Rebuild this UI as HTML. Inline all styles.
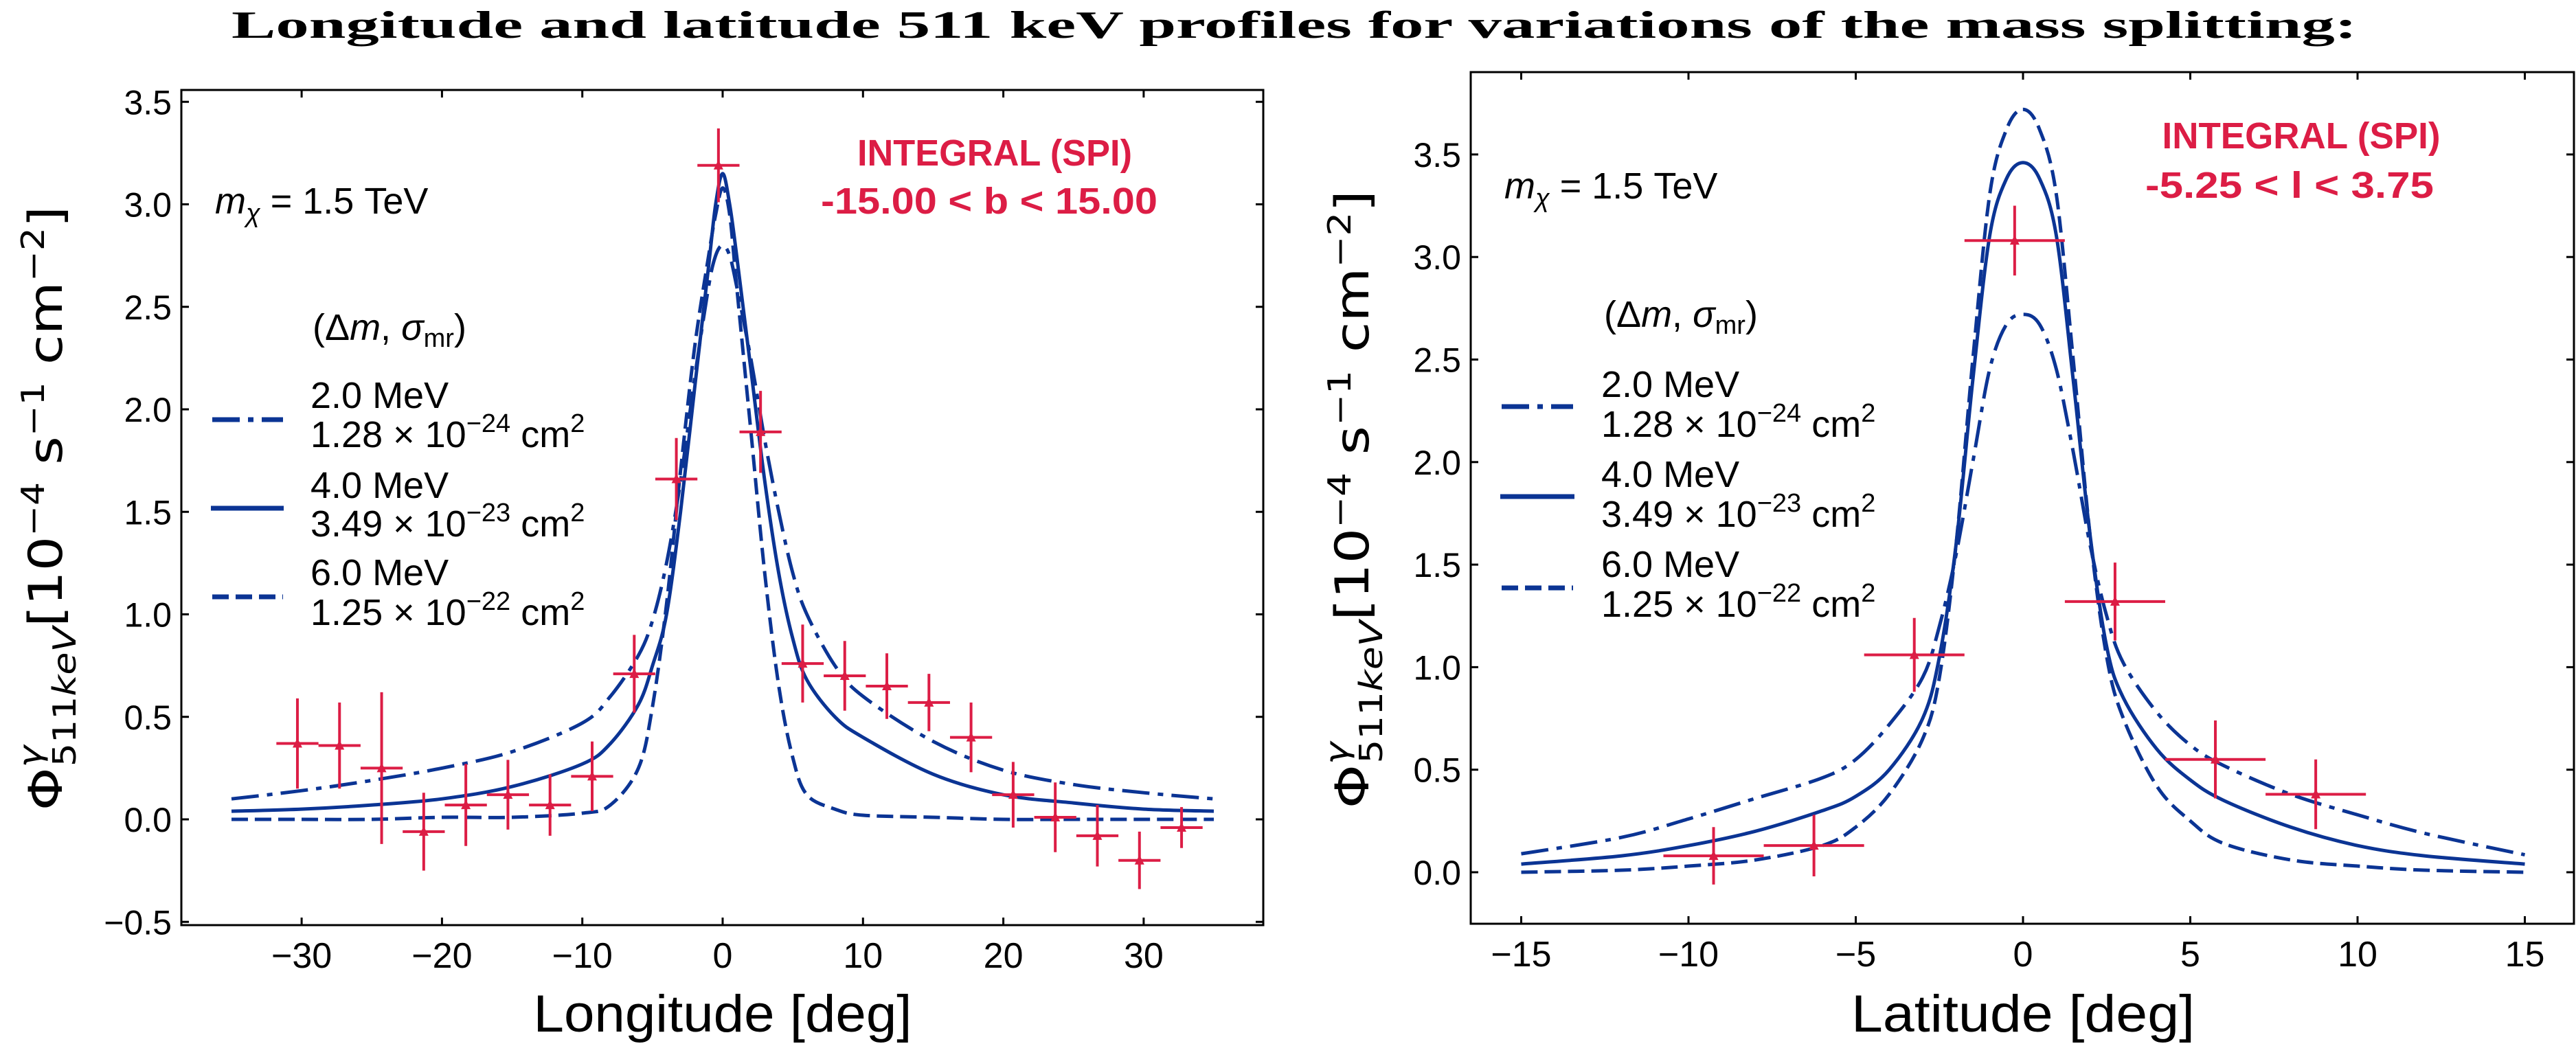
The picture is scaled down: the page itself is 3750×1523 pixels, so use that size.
<!DOCTYPE html>
<html><head><meta charset="utf-8"><style>
html,body{margin:0;padding:0;background:#fff}
svg{display:block}
</style></head><body>
<svg id="fig" width="3750" height="1523" viewBox="0 0 3750 1523" xmlns="http://www.w3.org/2000/svg" style="font-family:'Liberation Sans','DejaVu Sans',sans-serif">
<text x="1884" y="55" text-anchor="middle" style="font-family:'Liberation Serif',serif;font-weight:bold;font-size:56px" textLength="3094" lengthAdjust="spacingAndGlyphs">Longitude and latitude 511 keV profiles for variations of the mass splitting:</text>
<g id="left"></g>
<g id="right"></g>

<!-- left annotations -->
<text x="1052" y="1502" text-anchor="middle" font-size="76" textLength="551" lengthAdjust="spacingAndGlyphs">Longitude [deg]</text>
<text transform="translate(90,740) rotate(-90)" text-anchor="middle" style="font-family:'DejaVu Sans',sans-serif;font-size:68px" textLength="880" lengthAdjust="spacingAndGlyphs">Φ<tspan dy="-30" font-size="46" font-style="italic">γ</tspan><tspan dx="-26" dy="50" font-size="46">511</tspan><tspan font-size="46" font-style="italic">keV</tspan><tspan dy="-20">[10</tspan><tspan dy="-26" font-size="46">−4</tspan><tspan dy="26"> s</tspan><tspan dy="-26" font-size="46">−1</tspan><tspan dy="26"> cm</tspan><tspan dy="-26" font-size="46">−2</tspan><tspan dy="26">]</tspan></text>
<text x="313" y="311" font-size="54"><tspan font-style="italic">m</tspan><tspan font-style="italic" font-size="38" dy="12">χ</tspan><tspan dy="-12"> = 1.5 TeV</tspan></text>
<text x="1448" y="241" text-anchor="middle" font-size="54" font-weight="bold" fill="#dc1d45" textLength="400" lengthAdjust="spacingAndGlyphs">INTEGRAL (SPI)</text>
<text x="1440" y="311" text-anchor="middle" font-size="54" font-weight="bold" fill="#dc1d45" textLength="490" lengthAdjust="spacingAndGlyphs">-15.00 &lt; b &lt; 15.00</text>
<g>
<text x="455" y="495" font-size="54">(Δ<tspan font-style="italic">m</tspan>, <tspan font-style="italic">σ</tspan><tspan font-size="38" dy="10">mr</tspan><tspan dy="-10">)</tspan></text>
<line x1="309" y1="611" x2="412" y2="611" stroke="#0b3494" stroke-width="7" stroke-dasharray="40 12 8 12"/>
<text x="452" y="594" font-size="54">2.0 MeV</text>
<text x="452" y="651" font-size="54">1.28 × 10<tspan dy="-22" font-size="38">−24</tspan><tspan dy="22"> cm</tspan><tspan dy="-22" font-size="38">2</tspan></text>
<line x1="307" y1="740" x2="413" y2="740" stroke="#0b3494" stroke-width="7"/>
<text x="452" y="725" font-size="54">4.0 MeV</text>
<text x="452" y="781" font-size="54">3.49 × 10<tspan dy="-22" font-size="38">−23</tspan><tspan dy="22"> cm</tspan><tspan dy="-22" font-size="38">2</tspan></text>
<line x1="309" y1="869" x2="412" y2="869" stroke="#0b3494" stroke-width="7" stroke-dasharray="24 10"/>
<text x="452" y="852" font-size="54">6.0 MeV</text>
<text x="452" y="910" font-size="54">1.25 × 10<tspan dy="-22" font-size="38">−22</tspan><tspan dy="22"> cm</tspan><tspan dy="-22" font-size="38">2</tspan></text>
</g>
<!-- right annotations -->
<text x="2945" y="1502" text-anchor="middle" font-size="76" textLength="500" lengthAdjust="spacingAndGlyphs">Latitude [deg]</text>
<text transform="translate(1992,727) rotate(-90)" text-anchor="middle" style="font-family:'DejaVu Sans',sans-serif;font-size:68px" textLength="900" lengthAdjust="spacingAndGlyphs">Φ<tspan dy="-30" font-size="46" font-style="italic">γ</tspan><tspan dx="-26" dy="50" font-size="46">511</tspan><tspan font-size="46" font-style="italic">keV</tspan><tspan dy="-20">[10</tspan><tspan dy="-26" font-size="46">−4</tspan><tspan dy="26"> s</tspan><tspan dy="-26" font-size="46">−1</tspan><tspan dy="26"> cm</tspan><tspan dy="-26" font-size="46">−2</tspan><tspan dy="26">]</tspan></text>
<text x="2190" y="289" font-size="54"><tspan font-style="italic">m</tspan><tspan font-style="italic" font-size="38" dy="12">χ</tspan><tspan dy="-12"> = 1.5 TeV</tspan></text>
<text x="3350" y="216" text-anchor="middle" font-size="54" font-weight="bold" fill="#dc1d45" textLength="405" lengthAdjust="spacingAndGlyphs">INTEGRAL (SPI)</text>
<text x="3333" y="288" text-anchor="middle" font-size="54" font-weight="bold" fill="#dc1d45" textLength="420" lengthAdjust="spacingAndGlyphs">-5.25 &lt; l &lt; 3.75</text>
<g>
<text x="2335" y="476" font-size="54">(Δ<tspan font-style="italic">m</tspan>, <tspan font-style="italic">σ</tspan><tspan font-size="38" dy="10">mr</tspan><tspan dy="-10">)</tspan></text>
<line x1="2186" y1="592" x2="2290" y2="592" stroke="#0b3494" stroke-width="7" stroke-dasharray="40 12 8 12"/>
<text x="2331" y="578" font-size="54">2.0 MeV</text>
<text x="2331" y="636" font-size="54">1.28 × 10<tspan dy="-22" font-size="38">−24</tspan><tspan dy="22"> cm</tspan><tspan dy="-22" font-size="38">2</tspan></text>
<line x1="2184" y1="723" x2="2292" y2="723" stroke="#0b3494" stroke-width="7"/>
<text x="2331" y="709" font-size="54">4.0 MeV</text>
<text x="2331" y="767" font-size="54">3.49 × 10<tspan dy="-22" font-size="38">−23</tspan><tspan dy="22"> cm</tspan><tspan dy="-22" font-size="38">2</tspan></text>
<line x1="2186" y1="856" x2="2290" y2="856" stroke="#0b3494" stroke-width="7" stroke-dasharray="24 10"/>
<text x="2331" y="840" font-size="54">6.0 MeV</text>
<text x="2331" y="898" font-size="54">1.25 × 10<tspan dy="-22" font-size="38">−22</tspan><tspan dy="22"> cm</tspan><tspan dy="-22" font-size="38">2</tspan></text>
</g>
</svg>
<script>
// ---- Longitude panel data ----
const lonX = [-35,-30,-25,-20,-15,-10,-8,-6,-5,-4,-3,-2,-1,-0.5,0,0.5,1,2,3,4,5,6,8,10,15,20,25,30,35];
const lonDashDot = [0.10,0.14,0.19,0.25,0.33,0.47,0.60,0.80,0.97,1.25,1.65,2.15,2.6,2.75,2.8,2.75,2.6,2.25,1.85,1.5,1.2,1.0,0.75,0.6,0.38,0.24,0.17,0.13,0.10];
const lonSolid = [0.04,0.05,0.07,0.10,0.16,0.27,0.37,0.56,0.75,1.0,1.5,2.1,2.7,3.0,3.15,3.0,2.75,2.2,1.65,1.2,0.88,0.68,0.5,0.4,0.22,0.12,0.08,0.05,0.04];
const lonDashed = [0,0,0,0.01,0.01,0.03,0.07,0.25,0.55,1.05,1.7,2.3,2.75,2.95,3.08,2.95,2.6,1.9,1.2,0.65,0.3,0.12,0.05,0.02,0.01,0,0,0,0];
const lonDataX = [-30.3,-27.3,-24.3,-21.3,-18.3,-15.3,-12.3,-9.3,-6.3,-3.3,-0.3,2.7,5.7,8.7,11.7,14.7,17.7,20.7,23.7,26.7,29.7,32.7];
const lonDataY = [0.37,0.36,0.25,-0.06,0.07,0.12,0.07,0.21,0.71,1.66,3.19,1.89,0.76,0.70,0.65,0.57,0.40,0.12,0.01,-0.08,-0.20,-0.04];
const lonDataErr = [0.22,0.21,0.37,0.19,0.20,0.17,0.15,0.17,0.19,0.20,0.18,0.20,0.19,0.17,0.16,0.14,0.17,0.16,0.17,0.15,0.14,0.10];
const lonXErr = 1.5;
const lonXTicks = [-30,-20,-10,0,10,20,30];
const lonYTicks = [-0.5,0,0.5,1,1.5,2,2.5,3,3.5];
// ---- Latitude panel data ----
const latX = [-15,-12,-10,-8,-6,-5,-4,-3,-2.5,-2,-1.5,-1,-0.5,0,0.5,1,1.5,2,2.5,3,4,5,6,8,10,12,15];
const latDashDot = [0.09,0.17,0.26,0.36,0.46,0.55,0.72,0.95,1.2,1.55,2.0,2.45,2.67,2.72,2.67,2.45,2.05,1.6,1.25,1.02,0.78,0.62,0.52,0.38,0.28,0.19,0.085];
const latSolid = [0.04,0.08,0.13,0.2,0.3,0.37,0.5,0.75,1.05,1.6,2.4,3.1,3.38,3.46,3.38,3.1,2.4,1.65,1.1,0.85,0.6,0.45,0.35,0.22,0.13,0.08,0.04];
const latDashed = [0.0,0.01,0.03,0.06,0.13,0.22,0.38,0.65,0.95,1.6,2.5,3.3,3.62,3.72,3.62,3.3,2.5,1.65,1.05,0.75,0.42,0.25,0.14,0.06,0.03,0.01,0.0];
const latDataX = [-9.25,-6.25,-3.25,-0.25,2.75,5.75,8.75];
const latDataY = [0.08,0.13,1.06,3.08,1.32,0.55,0.38];
const latDataErr = [0.14,0.15,0.18,0.17,0.19,0.19,0.17];
const latXErr = 1.5;
const latXTicks = [-15,-10,-5,0,5,10,15];
const latYTicks = [0,0.5,1,1.5,2,2.5,3,3.5];

const NS="http://www.w3.org/2000/svg";
const BLUE="#0b3494", RED="#dc1d45";
function mk(tag, attrs, parent){const e=document.createElementNS(NS,tag);for(const k in attrs)e.setAttribute(k,attrs[k]);parent.appendChild(e);return e;}
function fmt(v){return (v<0?"\u2212":"")+Math.abs(v).toFixed(1);}
function smoothPath(pts){
  let d="M"+pts[0][0].toFixed(1)+","+pts[0][1].toFixed(1);
  for(let i=0;i<pts.length-1;i++){
    const p0=pts[Math.max(0,i-1)],p1=pts[i],p2=pts[i+1],p3=pts[Math.min(pts.length-1,i+2)];
    const c1=[p1[0]+(p2[0]-p0[0])/6,p1[1]+(p2[1]-p0[1])/6];
    const c2=[p2[0]-(p3[0]-p1[0])/6,p2[1]-(p3[1]-p1[1])/6];
    d+=" C"+c1[0].toFixed(1)+","+c1[1].toFixed(1)+" "+c2[0].toFixed(1)+","+c2[1].toFixed(1)+" "+p2[0].toFixed(1)+","+p2[1].toFixed(1);
  }
  return d;
}
function panel(g,cfg){
  const sx=v=>cfg.x0px+(v-cfg.x0v)*cfg.xs;
  const sy=v=>cfg.y0px-(v)*cfg.ys;
  const styles=[["dashdot",cfg.dd,"40 12 8 12"],["solid",cfg.so,""],["dashed",cfg.da,"24 10"]];
  for(const [nm,arr,dash] of styles){
    const pts=cfg.cx.map((x,i)=>[sx(x),sy(arr[i])]);
    const p=mk("path",{d:smoothPath(pts),fill:"none",stroke:BLUE,"stroke-width":5,"stroke-dasharray":dash},g);
    
    
  }
  cfg.px.forEach((x,i)=>{
    const y=cfg.py[i],e=cfg.pe[i];
    const gg=mk("g",{},g);
    
    
    mk("line",{x1:sx(x-cfg.xe),x2:sx(x+cfg.xe),y1:sy(y),y2:sy(y),stroke:RED,"stroke-width":4},gg);
    mk("line",{x1:sx(x),x2:sx(x),y1:sy(y-e),y2:sy(y+e),stroke:RED,"stroke-width":4},gg);
    mk("path",{d:`M${sx(x)},${sy(y)-8} L${sx(x)+7},${sy(y)+6} L${sx(x)-7},${sy(y)+6} Z`,fill:RED},gg);
  });
  const f=mk("rect",{x:cfg.L,y:cfg.T,width:cfg.R-cfg.L,height:cfg.B-cfg.T,fill:"none",stroke:"#000","stroke-width":3},g);
  
  
  cfg.xt.forEach(v=>{
    const X=sx(v);
    mk("line",{x1:X,x2:X,y1:cfg.B,y2:cfg.B-11,stroke:"#000","stroke-width":3},g);
    mk("line",{x1:X,x2:X,y1:cfg.T,y2:cfg.T+11,stroke:"#000","stroke-width":3},g);
    const t=mk("text",{x:X,y:cfg.B+62,"text-anchor":"middle","font-size":52},g);
    t.textContent=(v<0?"\u2212":"")+Math.abs(v);
    
    
  });
  cfg.yt.forEach(v=>{
    const Y=sy(v);
    mk("line",{x1:cfg.L,x2:cfg.L+11,y1:Y,y2:Y,stroke:"#000","stroke-width":3},g);
    mk("line",{x1:cfg.R,x2:cfg.R-11,y1:Y,y2:Y,stroke:"#000","stroke-width":3},g);
    const t=mk("text",{x:cfg.L-14,y:Y+18,"text-anchor":"end","font-size":50},g);
    t.textContent=fmt(v);
    
    
  });
}
panel(document.getElementById("left"),{L:264,R:1839,T:131,B:1347,x0px:1052,x0v:0,xs:20.43,y0px:1193,ys:298.5,
  cx:lonX,dd:lonDashDot,so:lonSolid,da:lonDashed,px:lonDataX,py:lonDataY,pe:lonDataErr,xe:lonXErr,xt:lonXTicks,yt:lonYTicks});
panel(document.getElementById("right"),{L:2141,R:3747,T:105,B:1345,x0px:2945,x0v:0,xs:48.7,y0px:1270,ys:298.6,
  cx:latX,dd:latDashDot,so:latSolid,da:latDashed,px:latDataX,py:latDataY,pe:latDataErr,xe:latXErr,xt:latXTicks,yt:latYTicks});
</script>
</body></html>
